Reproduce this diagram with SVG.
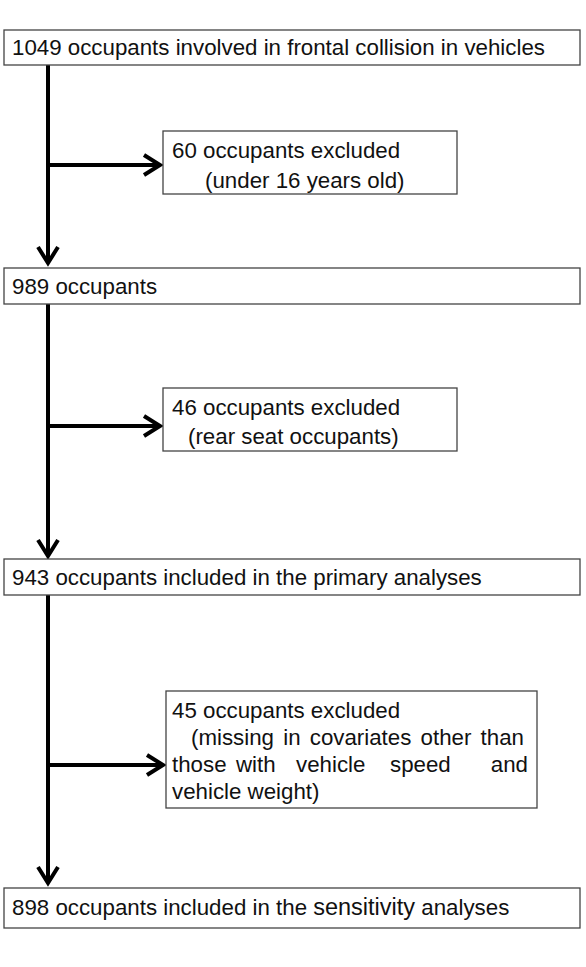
<svg xmlns="http://www.w3.org/2000/svg" width="586" height="967" viewBox="0 0 586 967">
<style>
.box{fill:#fff;stroke:#444;stroke-width:1.3}
.t{font-family:"Liberation Sans",Arial,sans-serif;font-size:22.3px;fill:#111}
.ln{stroke:#000;stroke-width:4;fill:none}
</style>
<defs>
<marker id="chev" markerUnits="userSpaceOnUse" viewBox="-20 -13 24 26" refX="0" refY="0" markerWidth="24" markerHeight="26" orient="auto">
<path d="M-16,-10 L0,0 L-16,10" fill="none" stroke="#000" stroke-width="4" stroke-linejoin="miter"/>
</marker>
</defs>
<rect width="586" height="967" fill="#fff"/>
<g id="connectors">
<line class="ln" x1="48" y1="65" x2="48" y2="263" marker-end="url(#chev)"/>
<line class="ln" x1="48" y1="165" x2="160" y2="165" marker-end="url(#chev)"/>
<line class="ln" x1="48" y1="304" x2="48" y2="556" marker-end="url(#chev)"/>
<line class="ln" x1="48" y1="426" x2="160" y2="426" marker-end="url(#chev)"/>
<line class="ln" x1="48" y1="595" x2="48" y2="883" marker-end="url(#chev)"/>
<line class="ln" x1="48" y1="765" x2="163" y2="765" marker-end="url(#chev)"/>
</g>
<g id="n1049">
<rect class="box" x="4" y="30" width="576" height="35"/>
<text class="t" x="12" y="55">1049 occupants involved in frontal collision in vehicles</text>
</g>
<g id="ex60">
<rect class="box" x="163" y="131" width="294" height="63"/>
<text class="t" x="172" y="158">60 occupants excluded</text>
<text class="t" x="205" y="188">(under 16 years old)</text>
</g>
<g id="n989">
<rect class="box" x="4" y="268" width="576" height="36"/>
<text class="t" x="12" y="294">989 occupants</text>
</g>
<g id="ex46">
<rect class="box" x="163" y="388" width="294" height="63"/>
<text class="t" x="172" y="415">46 occupants excluded</text>
<text class="t" x="188" y="444">(rear seat occupants)</text>
</g>
<g id="n943">
<rect class="box" x="4" y="559" width="576" height="36"/>
<text class="t" x="12" y="585">943 occupants included in the primary analyses</text>
</g>
<g id="ex45">
<rect class="box" x="166" y="691" width="371" height="117"/>
<text class="t" x="172" y="718">45 occupants excluded</text>
<text class="t" x="191" y="745" word-spacing="3">(missing in covariates other than</text>
<text class="t" x="172" y="772">those</text>
<text class="t" x="236" y="772">with</text>
<text class="t" x="296" y="772">vehicle</text>
<text class="t" x="390" y="772">speed</text>
<text class="t" x="528" y="772" text-anchor="end">and</text>
<text class="t" x="172" y="799">vehicle weight)</text>
</g>
<g id="n898">
<rect class="box" x="4" y="888" width="576" height="40"/>
<text class="t" x="12" y="915">898 occupants included in the <tspan font-size="23.5">sensitivity</tspan> analyses</text>
</g>
</svg>
